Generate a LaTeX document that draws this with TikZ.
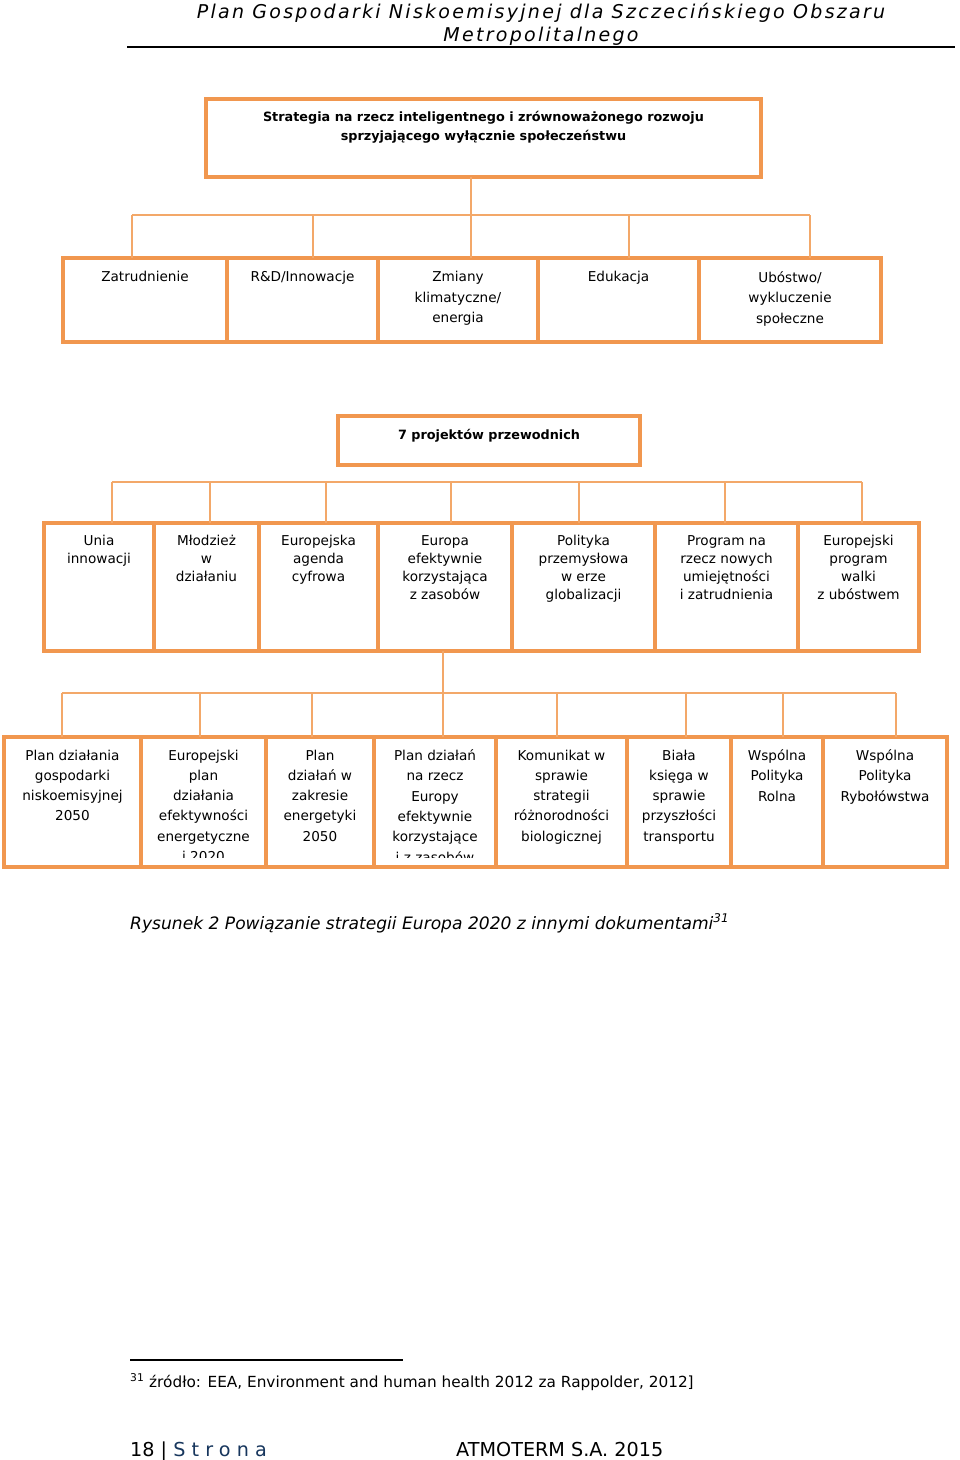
\documentclass[tikz,border=0pt]{standalone}
\usepackage{fontspec}
\setmainfont{DejaVu Sans}
\newfontfamily\spacedfont[LetterSpace=12]{DejaVu Sans}
\newfontfamily\pagefont[LetterSpace=32]{DejaVu Sans}
\definecolor{boxorange}{RGB}{241,151,79}
\definecolor{linkorange}{RGB}{243,168,105}
\definecolor{pagenavy}{RGB}{23,54,93}

\tikzset{
  cell/.style={draw=boxorange, line width=3.5pt, inner sep=0pt, outer sep=0pt},
  celltext/.style={anchor=north, align=center, inner sep=0pt},
  link/.style={draw=linkorange, line width=1.5pt},
}

\begin{document}
\begin{tikzpicture}[x=1pt, y=-1pt]
  \path[fill=white, use as bounding box] (0,0) rectangle (960,1460);

  % --- page header ---
  \node[anchor=north, align=center, inner sep=0pt, font=\spacedfont\itshape\fontsize{19}{23}\selectfont] (header) at (541,3)
    {Plan Gospodarki Niskoemisyjnej dla Szczecińskiego Obszaru\\Metropolitalnego};
  \draw[line width=2.5pt] (127,47) -- (955,47);

  % --- top strategy box ---
  \node[cell, minimum width=555pt, minimum height=78pt] (strat) at (483.5,138) {};
  \node[celltext, font=\bfseries\fontsize{12.8}{19}\selectfont] (strat-t) at (483.5,111)
    {Strategia na rzecz inteligentnego i zrównoważonego rozwoju\\sprzyjającego wyłącznie społeczeństwu};

  % --- row 1: priority areas ---
  \begin{scope}[every node/.append style={minimum height=84pt}]
    \node[cell, minimum width=164pt] (zatr)    at (145,300) {};
    \node[cell, minimum width=151pt] (rnd)     at (302.5,300) {};
    \node[cell, minimum width=160pt] (klimat)  at (458,300) {};
    \node[cell, minimum width=161pt] (eduk)    at (618.5,300) {};
    \node[cell, minimum width=182pt] (ubostwo) at (790,300) {};
  \end{scope}
  \begin{scope}[every node/.append style={celltext, yshift=-13pt, font=\fontsize{13.6}{20.5}\selectfont}]
    \node (zatr-t)    at (zatr.north)    {Zatrudnienie};
    \node (rnd-t)     at (rnd.north)     {R\&D/Innowacje};
    \node (klimat-t)  at (klimat.north)  {Zmiany\\klimatyczne/\\energia};
    \node (eduk-t)    at (eduk.north)    {Edukacja};
    \node (ubostwo-t) at (ubostwo.north) {Ubóstwo/\\wykluczenie\\społeczne};
  \end{scope}

  % connectors strategy -> areas
  \coordinate (bus1) at (471,215);
  \draw[link] (bus1 |- strat.south) -- (bus1);
  \draw[link] (132,215) -- (810,215);
  \foreach \x in {132,313,471,629,810}
    \draw[link] (\x,215) -- (\x,0 |- zatr.north);

  % --- flagship initiatives ---
  \node[cell, minimum width=302pt, minimum height=49pt] (flag) at (489,440.5) {};
  \node[font=\bfseries\fontsize{12.8}{16}\selectfont, inner sep=0pt] (flag-t) at (489,436) {7 projektów przewodnich};

  % --- row 2 ---
  \begin{scope}[every node/.append style={minimum height=128pt}]
    \node[cell, minimum width=110pt] (unia)     at (99,587) {};
    \node[cell, minimum width=105pt] (mlodziez) at (206.5,587) {};
    \node[cell, minimum width=119pt] (agenda)   at (318.5,587) {};
    \node[cell, minimum width=134pt] (zasoby)   at (445,587) {};
    \node[cell, minimum width=143pt] (przem)    at (583.5,587) {};
    \node[cell, minimum width=143pt] (umiej)    at (726.5,587) {};
    \node[cell, minimum width=121pt] (walka)    at (858.5,587) {};
  \end{scope}
  \begin{scope}[every node/.append style={celltext, yshift=-12pt, font=\fontsize{13.6}{18}\selectfont}]
    \node (unia-t)     at (unia.north)     {Unia\\innowacji};
    \node (mlodziez-t) at (mlodziez.north) {Młodzież\\w\\działaniu};
    \node (agenda-t)   at (agenda.north)   {Europejska\\agenda\\cyfrowa};
    \node (zasoby-t)   at (zasoby.north)   {Europa\\efektywnie\\korzystająca\\z zasobów};
    \node (przem-t)    at (przem.north)    {Polityka\\przemysłowa\\w erze\\globalizacji};
    \node (umiej-t)    at (umiej.north)    {Program na\\rzecz nowych\\umiejętności\\i zatrudnienia};
    \node (walka-t)    at (walka.north)    {Europejski\\program\\walki\\z ubóstwem};
  \end{scope}

  % connectors -> row 2
  \draw[link] (112,482) -- (862,482);
  \foreach \x in {112,210,326,451,579,725,862}
    \draw[link] (\x,482) -- (\x,0 |- unia.north);

  % --- row 3: related documents ---
  \begin{scope}[every node/.append style={minimum height=130pt}]
    \node[cell, minimum width=137pt] (gosp)    at (72.5,802) {};
    \node[cell, minimum width=125pt] (efekt)   at (203.5,802) {};
    \node[cell, minimum width=108pt] (energ)   at (320,802) {};
    \node[cell, minimum width=122pt] (europy)  at (435,802) {};
    \node[cell, minimum width=131pt] (bio)     at (561.5,802) {};
    \node[cell, minimum width=104pt] (bial)    at (679,802) {};
    \node[cell, minimum width=92pt]  (rolna)   at (777,802) {};
    \node[cell, minimum width=124pt] (ryby)    at (885,802) {};
  \end{scope}
  \begin{scope}
    \clip (0,737) rectangle (960,857);
    \begin{scope}[every node/.append style={celltext, yshift=-12.5pt, font=\fontsize{13.6}{20.3}\selectfont}]
      \node (gosp-t)   at (gosp.north)   {Plan działania\\gospodarki\\niskoemisyjnej\\2050};
      \node (efekt-t)  at (efekt.north)  {Europejski\\plan\\działania\\efektywności\\energetyczne\\i 2020};
      \node (energ-t)  at (energ.north)  {Plan\\działań w\\zakresie\\energetyki\\2050};
      \node (europy-t) at (europy.north) {Plan działań\\na rzecz\\Europy\\efektywnie\\korzystające\\i z zasobów};
      \node (bio-t)    at (bio.north)    {Komunikat w\\sprawie\\strategii\\różnorodności\\biologicznej};
      \node (bial-t)   at (bial.north)   {Biała\\księga w\\sprawie\\przyszłości\\transportu};
      \node (rolna-t)  at (rolna.north)  {Wspólna\\Polityka\\Rolna};
      \node (ryby-t)   at (ryby.north)   {Wspólna\\Polityka\\Rybołówstwa};
    \end{scope}
  \end{scope}

  % connectors -> row 3
  \coordinate (bus3) at (443,693);
  \draw[link] (bus3 |- zasoby.south) -- (bus3);
  \draw[link] (62,693) -- (896,693);
  \foreach \x in {62,200,312,443,557,686,783,896}
    \draw[link] (\x,693) -- (\x,0 |- gosp.north);

  % --- caption ---
  \node[anchor=base west, inner sep=0pt, font=\itshape\fontsize{17.1}{20}\selectfont] (caption) at (130,929)
    {Rysunek 2 Powiązanie strategii Europa 2020 z innymi dokumentami\textsuperscript{31}};

  % --- footnote ---
  \draw[line width=1.3pt] (130,1360) -- (403,1360);
  \node[anchor=base west, inner sep=0pt, font=\fontsize{15.3}{18}\selectfont] (footnote) at (130,1387)
    {\textsuperscript{31} źródło: EEA, Environment and human health 2012 za Rappolder, 2012]};

  % --- page footer ---
  \node[anchor=base west, inner sep=0pt, font=\fontsize{19.2}{23}\selectfont] (pagenum) at (130,1456)
    {18 | {\pagefont\color{pagenavy}Strona}};
  \node[anchor=base west, inner sep=0pt, font=\fontsize{19.2}{23}\selectfont] (company) at (456,1456)
    {ATMOTERM S.A. 2015};
\end{tikzpicture}
\end{document}
